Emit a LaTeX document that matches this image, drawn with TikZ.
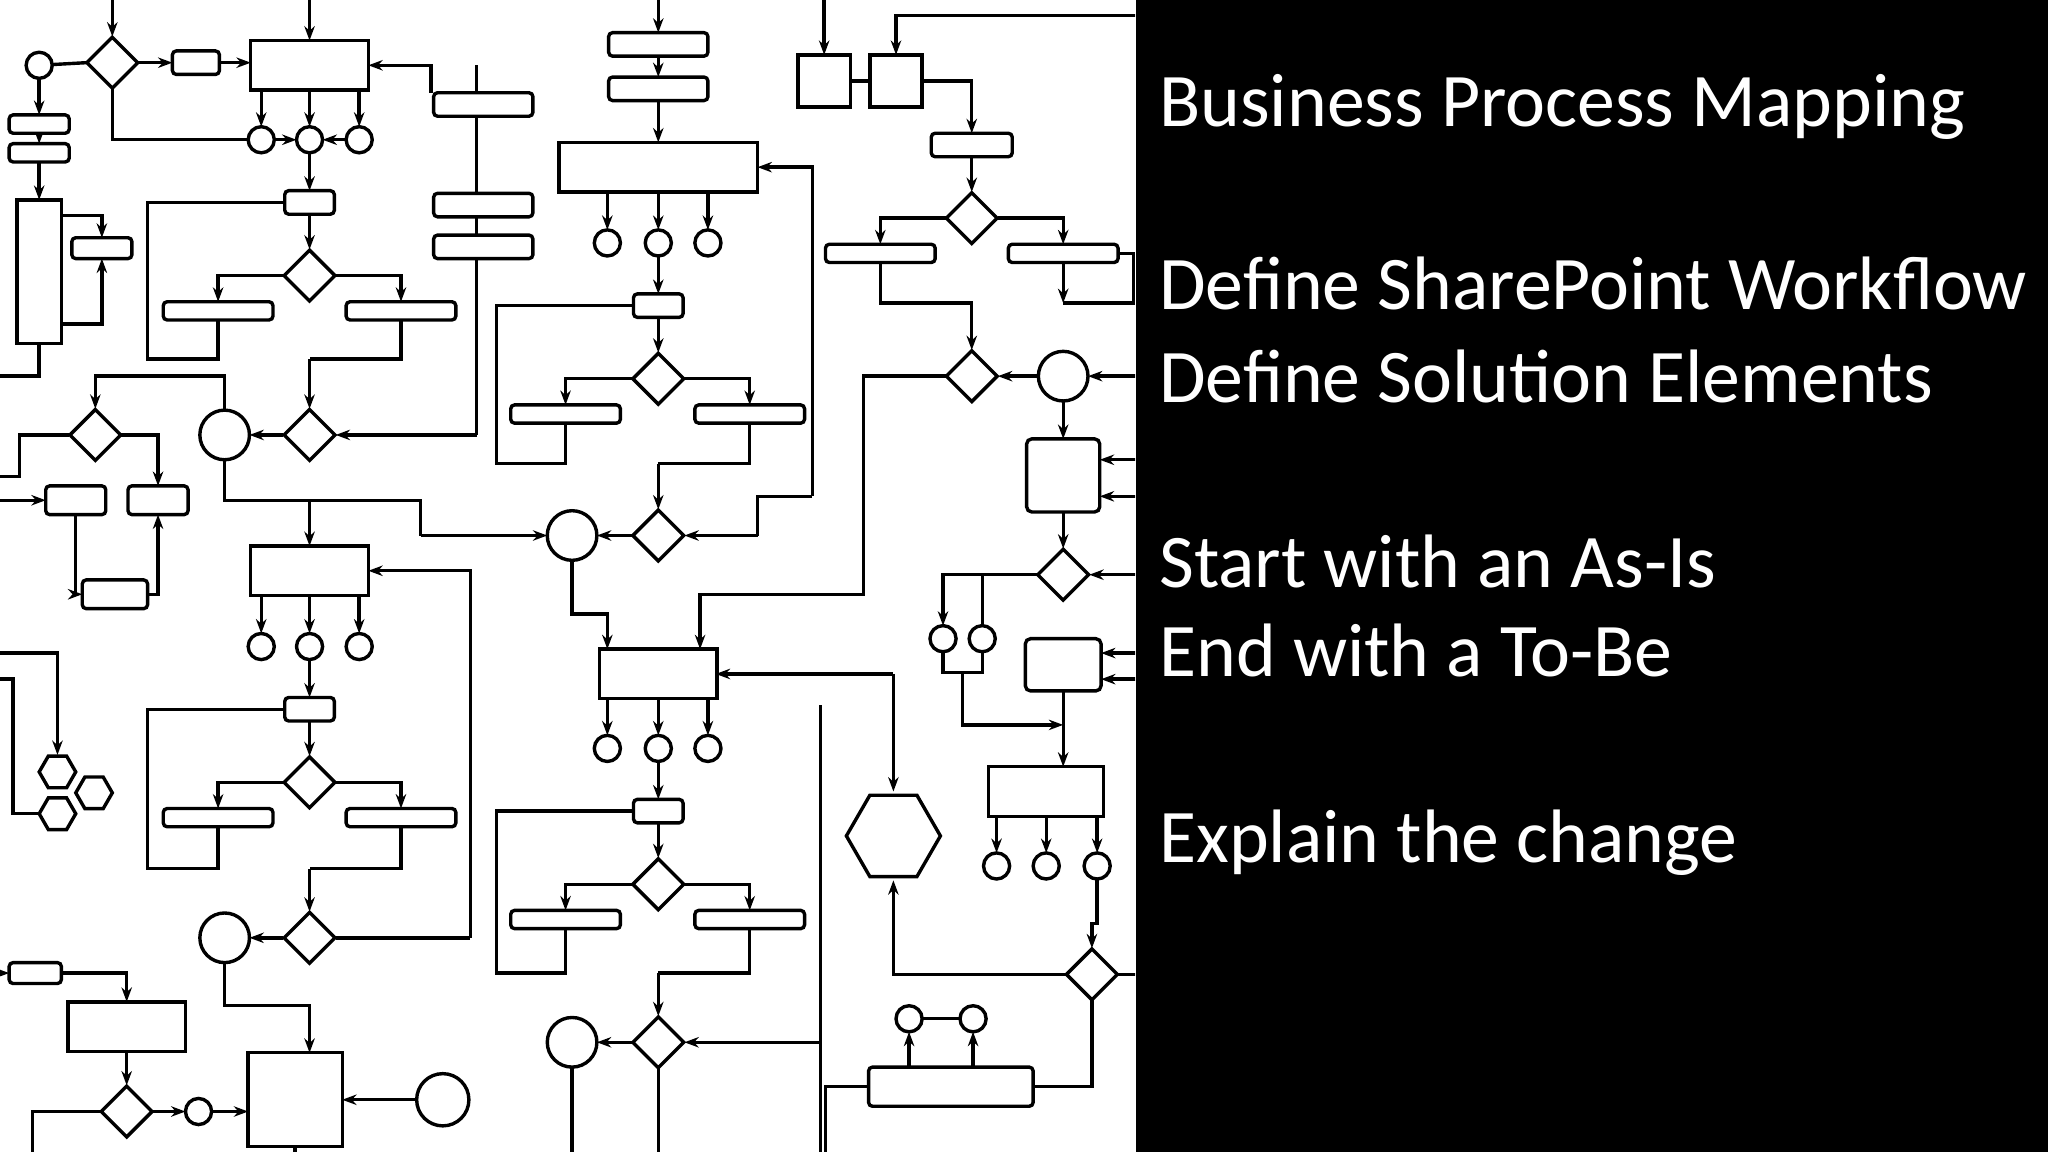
\documentclass[tikz,border=0pt]{standalone}
\usepackage{fontspec}
\setmainfont{Carlito}
\usetikzlibrary{shapes.geometric,arrows.meta}
\begin{document}
\begin{tikzpicture}[x=1pt,y=-1pt,line width=2.6pt,
 box/.style={draw,fill=white,inner sep=0,minimum width=#1},
 rr/.style={draw,fill=white,rounded corners=3pt,inner sep=0,minimum height=16,minimum width=#1},
 sq/.style={draw,fill=white,inner sep=0,minimum width=#1,minimum height=#1},
 dia/.style={draw,fill=white,diamond,inner sep=0,minimum size=40},
 cs/.style={draw,fill=white,circle,inner sep=0,minimum size=20},
 cb/.style={draw,fill=white,circle,inner sep=0,minimum size=38},
 hx/.style={draw,fill=white,regular polygon,regular polygon sides=6,inner sep=0,minimum size=#1},
 ar/.style={-{Stealth[length=11pt,width=8pt]}},
 txt/.style={text=white,font=\fontsize{58}{58}\selectfont,anchor=base west}]
\useasboundingbox (0,0) rectangle (1568,882);
\fill[white] (0,0) rectangle (870,882);
\fill[black] (870,0) rectangle (1568,882);
\begin{scope}
\clip (0,0) rectangle (869,882);
% ---------- connectors (drawn first) ----------
% top-left
\draw[ar] (86,0) -- (86,28);
\draw[ar] (237,0) -- (237,31);
\draw (30,50) -- (66,48);
\draw[ar] (30,60) -- (30,88);
\draw[ar] (30,102) -- (30,110);
\draw[ar] (30,124) -- (30,153);
\draw[ar] (106,48) -- (132,48);
\draw[ar] (168,48) -- (192,48);
\draw (86,68) -- (86,107) -- (190,107);
\draw[ar] (210,107) -- (227,107);
\draw[ar] (265,107) -- (247,107);
\draw[ar] (237,70) -- (237,97);
\draw[ar] (275,70) -- (275,97);
\draw[ar] (200,70) -- (200,97);
\draw[ar] (237,117) -- (237,146);
\draw[ar] (330,71) -- (330,50) -- (282,50);
\draw[ar] (237,164) -- (237,191);
\draw[ar] (217,211) -- (167,211) -- (167,231);
\draw[ar] (257,211) -- (307,211) -- (307,231);
\draw[ar] (47,165) -- (78,165) -- (78,182);
\draw[ar] (47,248) -- (78,248) -- (78,198);
\draw (30,263) -- (30,288) -- (0,288);
\draw (218,155) -- (113,155) -- (113,275) -- (167,275) -- (167,245);
\draw (307,245) -- (307,275) -- (237,275);
\draw[ar] (237,275) -- (237,313);
\draw (365,50) -- (365,333);
\draw[ar] (365,333) -- (257,333);
\draw[ar] (217,333) -- (191,333);
\draw[ar] (172,314) -- (172,288) -- (73,288) -- (73,313);
\draw (53,333) -- (15,333) -- (15,365) -- (0,365);
\draw[ar] (93,333) -- (121,333) -- (121,372);
\draw[ar] (0,383) -- (35,383);
\draw[ar] (58,394) -- (58,455) -- (63,455);
\draw[ar] (113,455) -- (121,455) -- (121,394);
\draw[ar] (172,352) -- (172,383) -- (237,383) -- (237,418);
\draw (237,383) -- (322,383) -- (322,410);
\draw[ar] (322,410) -- (419,410);
\draw[ar] (360,718) -- (360,437) -- (282,437);
\draw[ar] (237,456) -- (237,485);
\draw[ar] (200,456) -- (200,485);
\draw[ar] (275,456) -- (275,485);
\draw[ar] (237,505) -- (237,534);
\draw[ar] (237,552) -- (237,579);
\draw[ar] (217,599) -- (167,599) -- (167,619);
\draw[ar] (257,599) -- (307,599) -- (307,619);
\draw (218,543) -- (113,543) -- (113,665) -- (167,665) -- (167,633);
\draw (307,633) -- (307,665) -- (237,665);
\draw[ar] (237,665) -- (237,698);
\draw (360,718) -- (257,718);
\draw[ar] (217,718) -- (191,718);
\draw[ar] (172,737) -- (172,770) -- (237,770) -- (237,806);
\draw[ar] (319,842) -- (262,842);
\draw[ar] (0,745) -- (7,745);
\draw[ar] (47,745) -- (97,745) -- (97,767);
\draw[ar] (97,805) -- (97,831);
\draw (77,851) -- (25,851) -- (25,882);
\draw[ar] (117,851) -- (142,851);
\draw[ar] (162,851) -- (190,851);
\draw (226,878) -- (226,882);
\draw[ar] (0,500) -- (44,500) -- (44,578);
\draw (0,520) -- (10,520) -- (10,623) -- (31,623);
% middle
\draw[ar] (504,0) -- (504,25);
\draw[ar] (504,43) -- (504,59);
\draw[ar] (504,77) -- (504,109);
\draw[ar] (622,380) -- (622,128) -- (580,128);
\draw (580,410) -- (580,380) -- (622,380);
\draw[ar] (580,410) -- (524,410);
\draw[ar] (465,148) -- (465,176);
\draw[ar] (504,148) -- (504,176);
\draw[ar] (542,148) -- (542,176);
\draw[ar] (504,196) -- (504,225);
\draw[ar] (504,243) -- (504,270);
\draw[ar] (484,290) -- (433,290) -- (433,310);
\draw[ar] (524,290) -- (574,290) -- (574,310);
\draw (485,234) -- (380,234) -- (380,355) -- (433,355) -- (433,324);
\draw (574,324) -- (574,355) -- (504,355);
\draw[ar] (504,355) -- (504,390);
\draw[ar] (484,410) -- (457,410);
\draw[ar] (438,429) -- (438,470) -- (465,470) -- (465,497);
\draw[ar] (724,288) -- (661,288) -- (661,455) -- (536,455) -- (536,497);
\draw[ar] (684,516) -- (548,516);
\draw[ar] (684,516) -- (684,606);
\draw[ar] (465,535) -- (465,563);
\draw[ar] (504,535) -- (504,563);
\draw[ar] (542,535) -- (542,563);
\draw[ar] (504,583) -- (504,612);
\draw[ar] (504,630) -- (504,657);
\draw[ar] (484,677) -- (433,677) -- (433,697);
\draw[ar] (524,677) -- (574,677) -- (574,697);
\draw (485,621) -- (380,621) -- (380,745) -- (433,745) -- (433,711);
\draw (574,711) -- (574,745) -- (504,745);
\draw[ar] (504,745) -- (504,778);
\draw[ar] (484,798) -- (457,798);
\draw (438,817) -- (438,882);
\draw (504,818) -- (504,882);
\draw (628,540) -- (628,882);
\draw[ar] (628,798) -- (524,798);
\draw[ar] (816,746) -- (684,746) -- (684,674);
\draw (706,780) -- (735,780);
\draw[ar] (696,817) -- (696,790);
\draw[ar] (745,817) -- (745,790);
\draw (791,832) -- (836,832) -- (836,766);
\draw (665,832) -- (632,832) -- (632,882);
% right
\draw[ar] (631,0) -- (631,42);
\draw (651,62) -- (666,62);
\draw[ar] (870,12) -- (686,12) -- (686,42);
\draw[ar] (706,62) -- (744,62) -- (744,102);
\draw[ar] (744,120) -- (744,147);
\draw[ar] (724,167) -- (674,167) -- (674,187);
\draw[ar] (764,167) -- (814,167) -- (814,187);
\draw[ar] (674,201) -- (674,232) -- (744,232) -- (744,268);
\draw[ar] (814,201) -- (814,232);
\draw (854,194) -- (868,194) -- (868,232) -- (814,232);
\draw[ar] (795,288) -- (764,288);
\draw[ar] (870,288) -- (833,288);
\draw[ar] (814,307) -- (814,336);
\draw[ar] (870,352) -- (842,352);
\draw[ar] (870,380) -- (842,380);
\draw[ar] (814,392) -- (814,420);
\draw[ar] (870,440) -- (834,440);
\draw[ar] (794,440) -- (722,440) -- (722,479);
\draw (752,440) -- (752,479);
\draw (722,499) -- (722,515) -- (752,515) -- (752,499);
\draw[ar] (737,515) -- (737,555) -- (814,555);
\draw[ar] (870,500) -- (843,500);
\draw[ar] (870,520) -- (843,520);
\draw[ar] (814,529) -- (814,587);
\draw[ar] (763,625) -- (763,653);
\draw[ar] (801,625) -- (801,653);
\draw[ar] (840,625) -- (840,653);
\draw[ar] (840,673) -- (840,707) -- (836,707) -- (836,726);
\draw (856,746) -- (870,746);
% ---------- shapes ----------
\node[cs] (c1) at (30,50) {};
\node[dia] (d1) at (86,48) {};
\node[rr=36,minimum height=18] (r1) at (150,48) {};
\node[box=90,minimum height=38] (b1) at (237,50) {};
\node[rr=46,minimum height=14] (r2) at (30,95) {};
\node[rr=46,minimum height=14] (r3) at (30,117) {};
\node[cs] (c2) at (200,107) {};
\node[cs] (c3) at (237,107) {};
\node[cs] (c4) at (275,107) {};
\node[box=34,minimum height=110] (b2) at (30,208) {};
\node[rr=46] (r4) at (78,190) {};
\node[rr=38,minimum height=18] (r5) at (237,155) {};
\node[dia] (d2) at (237,211) {};
\node[rr=84,minimum height=14] (r6) at (167,238) {};
\node[rr=84,minimum height=14] (r7) at (307,238) {};
\node[rr=76,minimum height=18] (r8) at (370,80) {};
\node[rr=76,minimum height=18] (r9) at (370,157) {};
\node[rr=76,minimum height=18] (r10) at (370,189) {};
\node[dia] (d3) at (73,333) {};
\node[cb] (c5) at (172,333) {};
\node[dia] (d4) at (237,333) {};
\node[rr=46,minimum height=22] (r11) at (58,383) {};
\node[rr=46,minimum height=22] (r12) at (121,383) {};
\node[rr=50,minimum height=22] (r13) at (88,455) {};
\node[box=90,minimum height=38] (b3) at (237,437) {};
\node[cs] (c6) at (200,495) {};
\node[cs] (c7) at (237,495) {};
\node[cs] (c8) at (275,495) {};
\node[rr=38,minimum height=18] (r14) at (237,543) {};
\node[dia] (d5) at (237,599) {};
\node[rr=84,minimum height=14] (r15) at (167,626) {};
\node[rr=84,minimum height=14] (r16) at (307,626) {};
\node[hx=28] (h1) at (44,591) {};
\node[hx=28] (h2) at (72,607) {};
\node[hx=28] (h3) at (44,623) {};
\node[cb] (c9) at (172,718) {};
\node[dia] (d6) at (237,718) {};
\node[rr=40] (r17) at (27,745) {};
\node[box=90,minimum height=38] (b4) at (97,786) {};
\node[dia] (d7) at (97,851) {};
\node[cs] (c10) at (152,851) {};
\node[sq=72] (b5) at (226,842) {};
\node[draw,fill=white,circle,inner sep=0,minimum size=40] (c11) at (339,842) {};
% middle
\node[rr=76,minimum height=18] (r18) at (504,34) {};
\node[rr=76,minimum height=18] (r19) at (504,68) {};
\node[box=152,minimum height=38] (b6) at (504,128) {};
\node[cs] (c12) at (465,186) {};
\node[cs] (c13) at (504,186) {};
\node[cs] (c14) at (542,186) {};
\node[rr=38,minimum height=18] (r20) at (504,234) {};
\node[dia] (d8) at (504,290) {};
\node[rr=84,minimum height=14] (r21) at (433,317) {};
\node[rr=84,minimum height=14] (r22) at (574,317) {};
\node[cb] (c15) at (438,410) {};
\node[dia] (d9) at (504,410) {};
\node[box=90,minimum height=38] (b7) at (504,516) {};
\node[cs] (c16) at (465,573) {};
\node[cs] (c17) at (504,573) {};
\node[cs] (c18) at (542,573) {};
\node[rr=38,minimum height=18] (r23) at (504,621) {};
\node[dia] (d10) at (504,677) {};
\node[rr=84,minimum height=14] (r24) at (433,704) {};
\node[rr=84,minimum height=14] (r25) at (574,704) {};
\node[cb] (c19) at (438,798) {};
\node[dia] (d11) at (504,798) {};
\node[hx=72] (h4) at (684,640) {};
\node[cs] (c20) at (696,780) {};
\node[cs] (c21) at (745,780) {};
\node[rr=126,minimum height=30] (r26) at (728,832) {};
% right
\node[sq=40] (b8) at (631,62) {};
\node[sq=40] (b9) at (686,62) {};
\node[rr=62,minimum height=18] (r27) at (744,111) {};
\node[dia] (d12) at (744,167) {};
\node[rr=84,minimum height=14] (r28) at (674,194) {};
\node[rr=84,minimum height=14] (r29) at (814,194) {};
\node[dia] (d13) at (744,288) {};
\node[cb] (c22) at (814,288) {};
\node[draw,fill=white,rounded corners=4pt,inner sep=0,minimum size=56] (r30) at (814,364) {};
\node[dia] (d14) at (814,440) {};
\node[cs] (c23) at (722,489) {};
\node[cs] (c24) at (752,489) {};
\node[draw,fill=white,rounded corners=4pt,inner sep=0,minimum width=58,minimum height=40] (r31) at (814,509) {};
\node[box=88,minimum height=38] (b10) at (801,606) {};
\node[cs] (c25) at (763,663) {};
\node[cs] (c26) at (801,663) {};
\node[cs] (c27) at (840,663) {};
\node[dia] (d15) at (836,746) {};
\end{scope}
% ---------- text ----------
\node[txt] (t1) at (883,97) {Business Process Mapping};
\node[txt] (t2) at (883,237) {Define SharePoint Workflow};
\node[txt] (t3) at (883,308) {Define Solution Elements};
\node[txt] (t4) at (883,450) {Start with an As-Is};
\node[txt] (t5) at (883,518) {End with a To-Be};
\node[txt] (t6) at (883,660) {Explain the change};
\end{tikzpicture}
\end{document}
